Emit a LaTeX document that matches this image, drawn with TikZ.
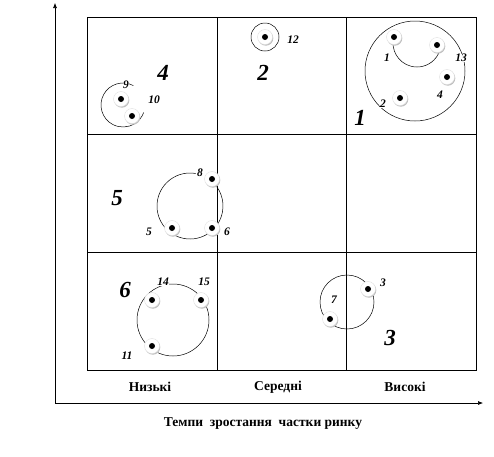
\documentclass[tikz,border=0pt]{standalone}
\usepackage{fontspec}
\setmainfont{Liberation Serif}
\usetikzlibrary{positioning,arrows.meta,shadows}
\tikzset{
  cell/.style={draw=black,line width=0.7pt},
  axis/.style={-{Latex[length=5pt,width=4pt]},line width=0.6pt},
  grp/.style={draw=black,line width=0.5pt},
  dot/.style={circle,minimum size=15pt,inner sep=0pt,fill=white,draw=gray!25,
    drop shadow={shadow xshift=0.8pt,shadow yshift=-1.2pt,fill=gray!50,opacity=1},
    path picture={\fill[black] (path picture bounding box.center) circle (3pt);}},
  num/.style={font=\bfseries\itshape\fontsize{11.5}{11.5}\selectfont,fill=white,inner sep=0.5pt},
  quad/.style={font=\bfseries\itshape\fontsize{23}{23}\selectfont,inner sep=0pt},
  cat/.style={font=\bfseries\fontsize{13.5}{13.5}\selectfont,inner sep=1pt},
}
\begin{document}
\begin{tikzpicture}[x=1pt,y=-1pt]
  \useasboundingbox (0,0) rectangle (494,456);
  % osi
  \coordinate (o) at (55,403);
  \coordinate (ytop) at (55,3);
  \coordinate (xend) at (483,403);
  \draw[axis] (o) -- (ytop);
  \draw[axis] (o) -- (xend);
  % matrix 3x3
  \draw[cell] (87,17) rectangle (476,370);
  \draw[cell] (217,17) -- (217,370) (346,17) -- (346,370)
              (87,134) -- (476,134) (87,252) -- (476,252);
  % pidpysy osi
  \node[cat] (low) at (150,387) {Низькі};
  \node[cat] (mid) at (278,387) {Середні};
  \node[cat] (high) at (405,387) {Високі};
  \node[cat,font=\bfseries\fontsize{13.5}{13.5}\selectfont] (xlab) at (263,424)
    {Темпи\ \ зростання\ \ частки ринку};
  % nomery kvadrantiv
  \node[quad] (q4) at (163,73) {4};
  \node[quad] (q2) at (263,73) {2};
  \node[quad] (q1) at (360,118) {1};
  \node[quad] (q5) at (117,198) {5};
  \node[quad] (q6) at (125,290) {6};
  \node[quad] (q3) at (390,338) {3};
  % hrupy
  \coordinate (c1) at (415,71);
  \coordinate (c1b) at (417,43);
  \coordinate (c2) at (265,37);
  \coordinate (c3) at (347,302);
  \coordinate (c4) at (123,105);
  \coordinate (c5) at (190,206);
  \coordinate (c6) at (173,320);
  \draw[grp] (c1) circle[radius=50];
  \draw[grp] (c1b) ++(-165:24) arc[start angle=-165,end angle=-354,radius=24];
  \draw[grp] (c2) circle[radius=14];
  \draw[grp] (c3) circle[radius=27];
  \draw[grp] (c4) ++(-62:22) arc[start angle=-62,end angle=-340,radius=22];
  \draw[grp] (c5) ++(-80:33) arc[start angle=-80,end angle=-411,radius=33];
  \draw[grp] (c6) circle[radius=36];
  % nomery pidpryiemstv
  \node[num] (l1) at (387,58) {1};
  \node[num] (l13) at (461,58) {13};
  \node[num] (l4) at (440,95) {4};
  \node[num] (l2) at (383,104) {2};
  \node[num] (l12) at (293,40) {12};
  \node[num] (l9) at (126,85) {9};
  \node[num] (l10) at (154,100) {10};
  \node[num] (l8) at (200,173) {8};
  \node[num] (l5) at (149,232) {5};
  \node[num] (l6) at (227,232) {6};
  \node[num] (l14) at (163,282) {14};
  \node[num] (l15) at (204,282) {15};
  \node[num] (l11) at (127,356) {11};
  \node[num] (l3) at (383,283) {3};
  \node[num] (l7) at (334,300) {7};
  % tochky
  \node[dot] (d1) at (394,37) {};
  \node[dot] (d13) at (437,45) {};
  \node[dot] (d4) at (447,77) {};
  \node[dot] (d2) at (400,98) {};
  \node[dot] (d12) at (265,37) {};
  \node[dot] (d9) at (121,99) {};
  \node[dot] (d10) at (132,116) {};
  \node[dot] (d8) at (212,179) {};
  \node[dot] (d5) at (172,228) {};
  \node[dot] (d6) at (212,228) {};
  \node[dot] (d14) at (152,300) {};
  \node[dot] (d15) at (201,300) {};
  \node[dot] (d11) at (152,346) {};
  \node[dot] (d3) at (368,289) {};
  \node[dot] (d7) at (330,319) {};
\end{tikzpicture}
\end{document}
